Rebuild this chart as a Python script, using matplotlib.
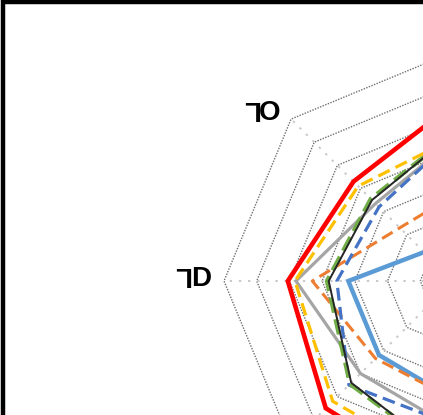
import numpy as np
import matplotlib
matplotlib.use('Agg')
import matplotlib.pyplot as plt
from matplotlib.patches import Rectangle

# radar axes, degrees (only the upper-left part of the chart is in view)
angles_deg = [0, 45, 90, 135, 180, 225, 270, 315]
ring_levels = [1, 2, 3, 4, 5, 6, 7]

# values per series, one per axis angle above
red    = [5.0, 4.6, 5.4, 4.3, 5.05, 5.5, 6.3, 5.0]
yellow = [4.6, 4.2, 4.35, 4.1, 4.83, 5.2, 5.8, 4.6]
gray   = [4.2, 4.0, 4.3, 3.35, 4.8, 4.0, 4.5, 4.2]
green  = [4.0, 3.9, 4.5, 3.55, 3.85, 4.45, 5.5, 4.0]
black  = [4.0, 3.9, 4.5, 3.5, 3.8, 4.4, 5.5, 4.0]
blue   = [3.8, 3.7, 4.35, 3.2, 3.55, 4.5, 4.4, 3.8]
orange = [3.0, 2.6, 2.6, 2.3, 4.3, 3.35, 3.6, 3.0]
lblue  = [2.0, 1.6, 1.5, 1.25, 3.2, 3.2, 3.6, 2.0]

# visible axis labels: (angle, first char drawn turned, second char)
axis_labels = [(180, 'L', 'D'), (135, 'L', 'O')]

theta = np.deg2rad(angles_deg + [angles_deg[0]])

def closed(v):
    return list(v) + [v[0]]

W, H = 423, 415
fig = plt.figure(figsize=(W / 100, H / 100), dpi=100)

# polar axes centred off the right edge: centre (453, 281), radius 229 px
cx, cy, R = 453, 281, 229
ax = fig.add_axes([(cx - R) / W, (H - cy - R) / H, 2 * R / W, 2 * R / H],
                  projection='polar')
ax.set_theta_zero_location('E')
ax.set_ylim(0, 7)
ax.set_xticks([])
ax.set_yticks([])
ax.grid(False)
ax.spines['polar'].set_visible(False)
ax.patch.set_alpha(0)

# rings and spokes
for lv in ring_levels:
    ax.plot(theta, [lv] * len(theta), color='#6f6f6f', lw=1.0,
            ls=(0, (1, 1)), zorder=1, clip_on=False)
for a in np.deg2rad(angles_deg):
    ax.plot([a, a], [0, 7], color='#c8c8c8', lw=1.4, ls=(0, (1.2, 3.5)),
            zorder=1, clip_on=False)

series = [
    (gray,   '#a5a5a5', 2.3, '-'),
    (lblue,  '#5b9bd5', 3.2, '-'),
    (orange, '#ed7d31', 2.2, (0, (4, 2))),
    (blue,   '#4472c4', 2.3, (0, (4, 2))),
    (green,  '#70ad47', 3.2, (0, (3.5, 1.5))),
    (black,  '#262626', 1.4, '-'),
    (yellow, '#ffc000', 2.3, (0, (4, 2))),
    (red,    '#ff0000', 3.3, '-'),
]
for vals, col, lw, ls in series:
    ax.plot(theta, closed(vals), color=col, lw=lw, ls=ls, zorder=3,
            clip_on=False, solid_joinstyle='miter')

# axis labels
for ang, c1, c2 in axis_labels:
    th = np.deg2rad(ang)
    dy = 2 if ang == 180 else 6.5
    dx1 = -42.5 if ang == 180 else -40.5
    dx2 = -22.5 if ang == 180 else -21
    ax.annotate(c1, xy=(th, 7), xytext=(dx1, dy + 5), textcoords='offset pixels',
                ha='center', va='center', rotation=180, rotation_mode='anchor',
                fontsize=20, fontweight='bold', family='Liberation Sans',
                annotation_clip=False)
    ax.annotate(c2, xy=(th, 7), xytext=(dx2, dy), textcoords='offset pixels',
                ha='center', va='center', fontsize=20, fontweight='bold',
                family='Liberation Sans', annotation_clip=False)

# outer border of the chart area
fig.add_artist(Rectangle((2.5 / W, -0.2), 2, 1.2 + (H - 2.5) / H - 1,
                         transform=fig.transFigure, fill=False,
                         ec='black', lw=3.2))

fig.savefig('out.png', dpi=100)
